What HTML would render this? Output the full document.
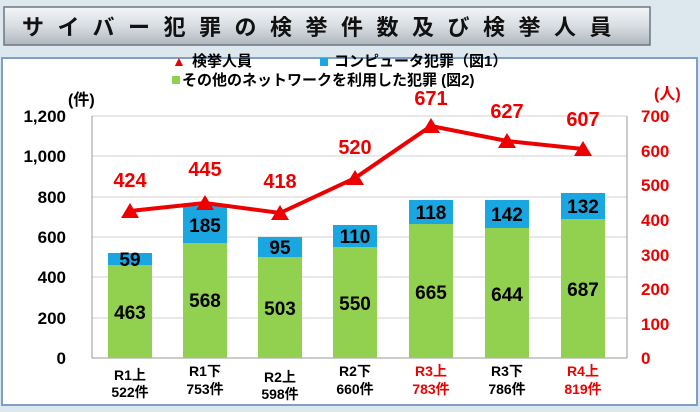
<!DOCTYPE html><html><head><meta charset="utf-8"><style>
body{margin:0;width:700px;height:407px;overflow:hidden;background:#dde7ee;font-family:"Liberation Sans","Noto Sans CJK JP",sans-serif}
</style></head><body>
<svg width="700" height="407" xmlns="http://www.w3.org/2000/svg" font-family="Liberation Sans, Noto Sans CJK JP, sans-serif">
<defs><linearGradient id="g" x1="0" y1="0" x2="0" y2="1"><stop offset="0" stop-color="#f4f6f8"/><stop offset="0.5" stop-color="#d8dde2"/><stop offset="1" stop-color="#aeb6be"/></linearGradient></defs>
<rect x="0" y="0" width="700" height="407" fill="#dde7ee"/>
<rect x="2" y="58" width="695" height="347" fill="#fff" stroke="#7f9fc8" stroke-width="2"/>
<rect x="4" y="7" width="646" height="38" fill="url(#g)" stroke="#6d7680" stroke-width="1.5"/>
<text x="22" y="35" font-size="22" font-weight="bold" fill="#111" letter-spacing="13.5">サイバー犯罪の検挙件数及び検挙人員</text>
<text x="172" y="66" font-size="14" font-weight="bold" fill="#e00">▲</text><text x="192" y="66" font-size="15" font-weight="bold">検挙人員</text>
<rect x="320" y="58" width="8" height="8" fill="#1aa6e0"/><text x="334" y="66" font-size="15" font-weight="bold">コンピュータ犯罪（図1）</text>
<rect x="172" y="76" width="8" height="8" fill="#8fd14f"/><text x="182" y="85" font-size="15" font-weight="bold">その他のネットワークを利用した犯罪 (図2)</text>
<text x="68" y="105" font-size="16" font-weight="bold">(件)</text>
<text x="654" y="99" font-size="16" font-weight="bold" fill="#e00">(人)</text>
<g stroke="#d0d0d0" stroke-width="1">
<line x1="92" y1="116" x2="627" y2="116"/><line x1="92" y1="156" x2="627" y2="156"/><line x1="92" y1="197" x2="627" y2="197"/><line x1="92" y1="237" x2="627" y2="237"/><line x1="92" y1="277" x2="627" y2="277"/><line x1="92" y1="318" x2="627" y2="318"/></g>
<g stroke="#999"><line x1="92" y1="116" x2="92" y2="358"/><line x1="92" y1="358" x2="627" y2="358"/><line x1="627" y1="116" x2="627" y2="358"/></g>
<g font-size="17" font-weight="bold" text-anchor="end">
<text x="66" y="122">1,200</text><text x="66" y="162">1,000</text><text x="66" y="203">800</text><text x="66" y="243">600</text><text x="66" y="283">400</text><text x="66" y="324">200</text><text x="66" y="364">0</text></g>
<g font-size="17" font-weight="bold" fill="#e00">
<text x="641" y="122">700</text><text x="641" y="157">600</text><text x="641" y="191">500</text><text x="641" y="226">400</text><text x="641" y="261">300</text><text x="641" y="295">200</text><text x="641" y="330">100</text><text x="641" y="364">0</text></g>
<g font-size="19" font-weight="bold" text-anchor="middle">
<rect x="108" y="265" width="44" height="93" fill="#92d050"/><rect x="108" y="253" width="44" height="12" fill="#1aa6e0"/><text x="130" y="319">463</text><text x="130" y="266">59</text>
<rect x="183" y="243" width="44" height="115" fill="#92d050"/><rect x="183" y="206" width="44" height="37" fill="#1aa6e0"/><text x="205" y="307">568</text><text x="205" y="232">185</text>
<rect x="258" y="257" width="44" height="101" fill="#92d050"/><rect x="258" y="237" width="44" height="20" fill="#1aa6e0"/><text x="280" y="315">503</text><text x="280" y="254">95</text>
<rect x="333" y="247" width="44" height="111" fill="#92d050"/><rect x="333" y="225" width="44" height="22" fill="#1aa6e0"/><text x="355" y="310">550</text><text x="355" y="243">110</text>
<rect x="409" y="224" width="44" height="134" fill="#92d050"/><rect x="409" y="200" width="44" height="24" fill="#1aa6e0"/><text x="431" y="299">665</text><text x="431" y="219">118</text>
<rect x="485" y="228" width="44" height="130" fill="#92d050"/><rect x="485" y="200" width="44" height="28" fill="#1aa6e0"/><text x="507" y="301">644</text><text x="507" y="221">142</text>
<rect x="561" y="219" width="44" height="139" fill="#92d050"/><rect x="561" y="193" width="44" height="26" fill="#1aa6e0"/><text x="583" y="296">687</text><text x="583" y="213">132</text>
</g>
<polyline points="130,211 205,203 280,213 355,178 431,126 507,141 583,149" fill="none" stroke="#e00" stroke-width="4"/>
<g fill="#e00">
<polygon points="130,203 139,218 121,218"/><polygon points="205,195 214,210 196,210"/><polygon points="280,205 289,220 271,220"/><polygon points="355,170 364,185 346,185"/><polygon points="431,118 440,133 422,133"/><polygon points="507,133 516,148 498,148"/><polygon points="583,141 592,156 574,156"/></g>
<g font-size="20" font-weight="bold" fill="#e00" text-anchor="middle">
<text x="130" y="187">424</text><text x="205" y="176">445</text><text x="280" y="188">418</text><text x="355" y="154">520</text><text x="431" y="105">671</text><text x="507" y="118">627</text><text x="583" y="126">607</text></g>
<g font-size="14" font-weight="bold" text-anchor="middle">
<text x="130" y="380">R1上</text><text x="130" y="397">522件</text>
<text x="205" y="376">R1下</text><text x="205" y="394">753件</text>
<text x="280" y="382">R2上</text><text x="280" y="399">598件</text>
<text x="355" y="376">R2下</text><text x="355" y="394">660件</text>
<text x="431" y="376" fill="#e00">R3上</text><text x="431" y="394" fill="#e00">783件</text>
<text x="507" y="376">R3下</text><text x="507" y="394">786件</text>
<text x="583" y="376" fill="#e00">R4上</text><text x="583" y="394" fill="#e00">819件</text></g>
</svg></body></html>
